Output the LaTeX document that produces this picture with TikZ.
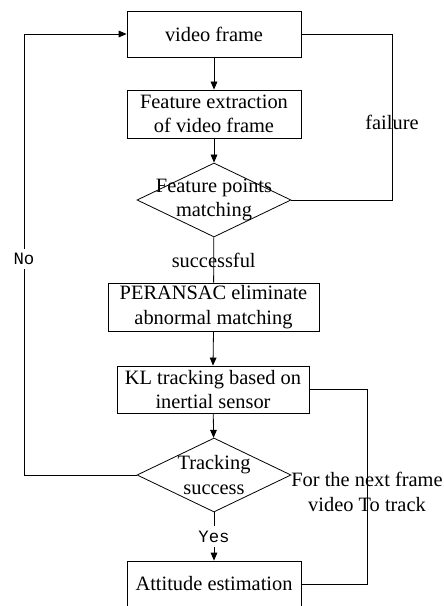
\documentclass[tikz,border=0pt]{standalone}
\usepackage{fontspec}
\setmainfont{Liberation Serif}
\newfontfamily\monofont{Liberation Mono}
\usetikzlibrary{shapes.geometric,arrows.meta,math}

\begin{document}
\begin{tikzpicture}[x=0.75pt,y=-0.75pt,
    font=\fontsize{15.3pt}{18.5pt}\selectfont,
    line width=0.6pt,
    procbox/.style 2 args={draw, align=center, inner sep=0pt, minimum width=#1, minimum height=#2},
    decide/.style={draw, diamond, inner sep=0pt, minimum width=115.5pt, minimum height=55.5pt,
      label={[align=center]center:#1}},
    arr/.style={-{Triangle[length=6pt,width=5pt]}},
    yesno/.style={fill=white, font=\monofont\fontsize{13pt}{13pt}\selectfont}]
  \tikzmath{\cx = 214; \lx = 24; \rx = 392; \kx = 367;}
  \useasboundingbox (0,0) rectangle (443,606);
  \clip (0,0) rectangle (443,606);

  \node[procbox={130.5pt}{34.5pt}] (vf) at (\cx,34) {video frame};
  \node[procbox={130.5pt}{36pt}] (fe) at (\cx,114) {Feature extraction\\of video frame};
  \node[decide={Feature points\\matching}] (fpm) at (\cx,200) {};
  \node[procbox={158.25pt}{36pt}] (per) at (213.5,307) {PERANSAC eliminate\\abnormal matching};
  \node[procbox={144pt}{35.25pt}] (kl) at (213,389.5) {KL tracking based on\\inertial sensor};
  \node[decide={Tracking\\success}] (ts) at (\cx,475) {};
  \node[procbox={130.5pt}{34.5pt}] (ae) at (\cx,584) {Attitude estimation};

  \coordinate (nocorner) at (\lx,475);
  \coordinate (failcorner) at (\rx,34);
  \coordinate (nextcorner) at (\kx,389.5);

  \draw[arr] (vf) -- (fe);
  \draw[arr] (fe) -- (fpm);
  \draw (fpm) -- node {successful} (per);
  \draw[arr] (per.south) -- (kl.north);
  \draw[arr] (kl) -- (ts);
  \draw[arr] (ts) -- node[yesno] {Yes} (ae);
  \draw[arr] (ts.west) -- (nocorner) |- node[yesno, pos=0.245] {No} (vf.west);
  \draw (vf.east) -- (failcorner) |- node[pos=0.265] {failure} (fpm.east);
  \draw (kl.east) -- (nextcorner) |- node[pos=0.263, align=center] {For the next frame\\video To track} (ae.east);
\end{tikzpicture}
\end{document}
